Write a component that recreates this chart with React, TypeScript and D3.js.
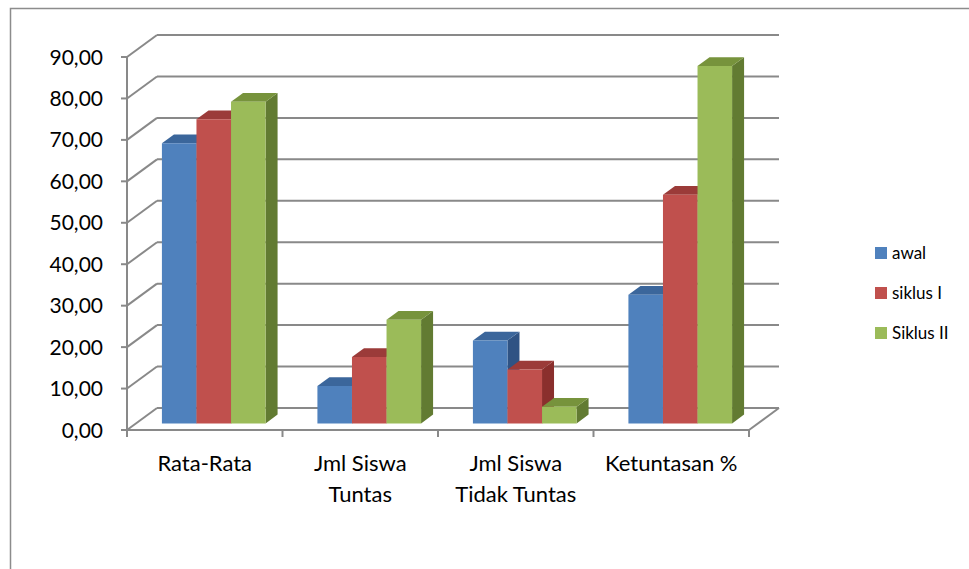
import React from 'react';
import * as d3 from "d3";

const categories = ["Rata-Rata", "Jml Siswa Tuntas", "Jml Siswa Tidak Tuntas", "Ketuntasan %"];
const categoryLines = [["Rata-Rata"], ["Jml Siswa", "Tuntas"], ["Jml Siswa", "Tidak Tuntas"], ["Ketuntasan %"]];
const seriesNames = ["awal", "siklus I", "Siklus II"];
const awal = [67.6, 9, 20, 31.03];
const siklus1 = [73.4, 16, 13, 55.17];
const siklus2 = [77.6, 25, 4, 86.21];
const yTicks = [0, 10, 20, 30, 40, 50, 60, 70, 80, 90];

const values = [awal, siklus1, siklus2];
// front, top, side
const faceColors = [
    ["#4F81BD", "#3B669B", "#2F5384"],
    ["#C0504D", "#9B3B39", "#8A2F2D"],
    ["#9BBB59", "#77933C", "#627B32"],
];

const FONT = "Lato, 'Open Sans', sans-serif";

export default function App() {
    // front plane of the plot box
    const left = 127, right = 749;
    const depthX = 30, depthY = -22;
    const z0 = 0.3, z1 = 0.7;

    const x0 = d3.scaleBand().domain(categories).range([left, right]).padding(0);
    const bw = x0.bandwidth();
    const x1 = d3.scaleBand().domain(seriesNames).range([bw / 6, bw * 5 / 6]).padding(0);
    const y = d3.scaleLinear().domain([0, 90]).range([430, 57]);

    const p = (x: number, yy: number, z: number) => [x + z * depthX, yy + z * depthY];
    const poly = (pts: number[][]) => pts.map(q => q.join(",")).join(" ");

    const grid = "#898989";

    const bars: any[] = [];
    categories.forEach((c, ci) => {
        seriesNames.forEach((s, si) => {
            const v = values[si][ci];
            const xl = (x0(c) as number) + (x1(s) as number);
            const xr = xl + x1.bandwidth();
            const yt = y(v), yb = y(0);
            const [fc, tc, sc] = faceColors[si];
            bars.push(
                <g key={c + s}>
                    <polygon points={poly([p(xr, yb, z0), p(xr, yb, z1), p(xr, yt, z1), p(xr, yt, z0)])} fill={sc} />
                    <polygon points={poly([p(xl, yt, z0), p(xr, yt, z0), p(xr, yt, z1), p(xl, yt, z1)])} fill={tc} />
                    <polygon points={poly([p(xl, yb, z0), p(xr, yb, z0), p(xr, yt, z0), p(xl, yt, z0)])} fill={fc} />
                </g>
            );
        });
    });

    return (
        <svg width={969} height={569} style={{position: "absolute", left: 0, top: 0}}>
            <rect x={0} y={0} width={969} height={569} fill="white" />
            {/* chart border */}
            <path d="M 10.5 580 V 8.5 H 980" fill="none" stroke="#8c8c8c" strokeWidth={1.5} />

            {/* back wall gridlines and side wall diagonals */}
            {yTicks.map(t => (
                <g key={"g" + t}>
                    <line x1={left + depthX} x2={right + depthX} y1={y(t) + depthY} y2={y(t) + depthY} stroke={grid} strokeWidth={2} />
                    <line x1={left} y1={y(t)} x2={left + depthX} y2={y(t) + depthY} stroke={grid} strokeWidth={2} />
                    <line x1={left - 6} x2={left} y1={y(t)} y2={y(t)} stroke={grid} strokeWidth={2} />
                </g>
            ))}
            {/* floor */}
            <line x1={left} x2={right} y1={y(0)} y2={y(0)} stroke={grid} strokeWidth={2} />
            <line x1={right} y1={y(0)} x2={right + depthX} y2={y(0) + depthY} stroke={grid} strokeWidth={2} />
            {/* vertical axis */}
            <line x1={left} x2={left} y1={y(90)} y2={y(0) + 7} stroke={grid} strokeWidth={2} />
            {/* category ticks */}
            {categories.map(c => (
                <line key={"t" + c} x1={(x0(c) as number) + bw} x2={(x0(c) as number) + bw} y1={y(0)} y2={y(0) + 7} stroke={grid} strokeWidth={2} />
            ))}

            {bars}

            {/* y labels */}
            {yTicks.map(t => (
                <text key={"l" + t} x={103} y={y(t)} dy="0.36em" textAnchor="end" fontFamily={FONT} fontSize={21} fill="#000">
                    {d3.format(".2f")(t).replace(".", ",")}
                </text>
            ))}

            {/* category labels */}
            {categories.map((c, ci) => (
                <text key={"c" + c} textAnchor="middle" fontFamily={FONT} fontSize={22} fill="#000">
                    {categoryLines[ci].map((line, li) => (
                        <tspan key={li} x={(x0(c) as number) + bw / 2} y={471 + li * 31}>{line}</tspan>
                    ))}
                </text>
            ))}

            {/* legend */}
            {seriesNames.map((s, si) => (
                <g key={"lg" + s} transform={`translate(875, ${253 + si * 40})`}>
                    <rect x={0} y={-6} width={12} height={12} fill={faceColors[si][0]} />
                    <text x={17} y={0} dy="0.36em" fontFamily={FONT} fontSize={17} fill="#000">{s}</text>
                </g>
            ))}
        </svg>
    );
}
